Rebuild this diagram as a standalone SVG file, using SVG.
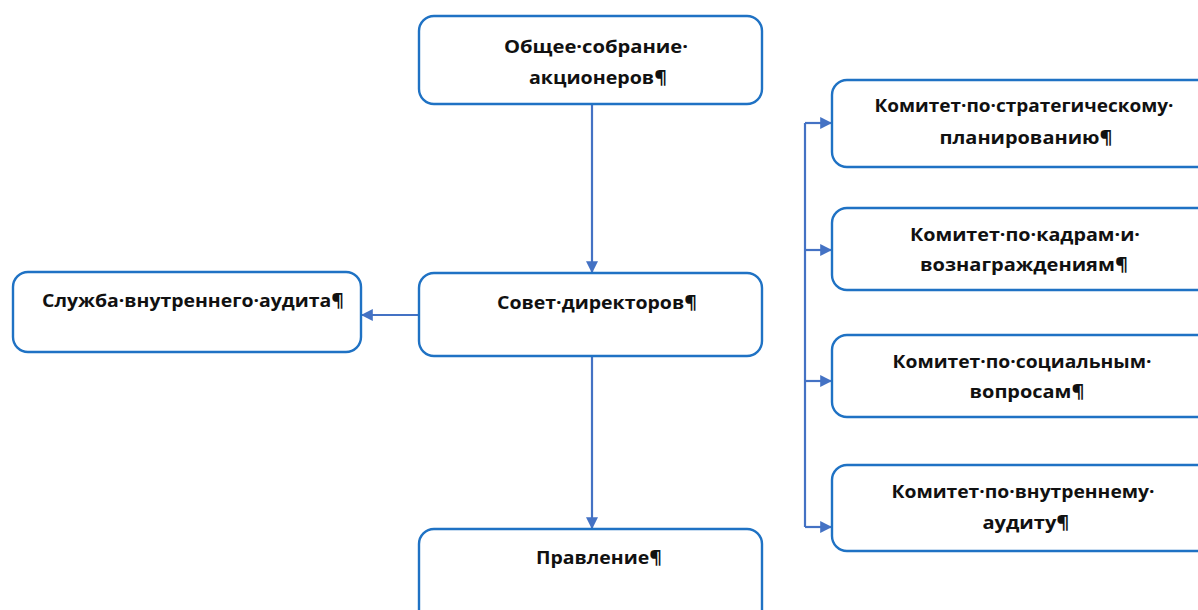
<svg xmlns="http://www.w3.org/2000/svg" width="1198" height="610" viewBox="0 0 1198 610">
<defs>
<style>
.box{fill:#fff;stroke:#1f72c4;stroke-width:2.4}
.t{font-family:"Open Sans","Noto Sans","DejaVu Sans",sans-serif;font-weight:700;font-size:18px;fill:#111;text-anchor:middle}
.c{fill:none;stroke:#4472c4;stroke-width:2.2}
</style>
<marker id="ah" viewBox="0 0 10 10" refX="9" refY="5" markerWidth="12" markerHeight="12" markerUnits="userSpaceOnUse" orient="auto">
<path d="M0,0 L10,5 L0,10 Z" fill="#4472c4"/>
</marker>
</defs>
<rect width="1198" height="610" fill="#fff"/>
<g id="connectors">
<path class="c" d="M592,104 V272" marker-end="url(#ah)"/>
<path class="c" d="M592,356 V528" marker-end="url(#ah)"/>
<path class="c" d="M418,315 H362" marker-end="url(#ah)"/>
<path class="c" d="M805,123 V527"/>
<path class="c" d="M805,123 H831" marker-end="url(#ah)"/>
<path class="c" d="M805,250 H831" marker-end="url(#ah)"/>
<path class="c" d="M805,381 H831" marker-end="url(#ah)"/>
<path class="c" d="M805,527 H831" marker-end="url(#ah)"/>
</g>
<g id="n-meeting">
<rect class="box" x="419" y="16" width="343" height="88" rx="15"/>
<text class="t" x="596" y="53" textLength="184" lengthAdjust="spacingAndGlyphs">Общее·собрание·</text>
<text class="t" x="598" y="84" textLength="138" lengthAdjust="spacingAndGlyphs">акционеров¶</text>
</g>
<g id="n-board">
<rect class="box" x="419" y="273" width="343" height="83" rx="15"/>
<text class="t" x="597" y="309" textLength="200" lengthAdjust="spacingAndGlyphs">Совет·директоров¶</text>
</g>
<g id="n-audit-service">
<rect class="box" x="13" y="272" width="348" height="80" rx="15"/>
<text class="t" x="193" y="307" textLength="302" lengthAdjust="spacingAndGlyphs">Служба·внутреннего·аудита¶</text>
</g>
<g id="n-management">
<rect class="box" x="419" y="529" width="343" height="100" rx="15"/>
<text class="t" x="599" y="564" textLength="126" lengthAdjust="spacingAndGlyphs">Правление¶</text>
</g>
<g id="n-strategy">
<rect class="box" x="832" y="80" width="390" height="87" rx="15"/>
<text class="t" x="1024" y="112" textLength="299" lengthAdjust="spacingAndGlyphs">Комитет·по·стратегическому·</text>
<text class="t" x="1026" y="144" textLength="173" lengthAdjust="spacingAndGlyphs">планированию¶</text>
</g>
<g id="n-hr">
<rect class="box" x="832" y="208" width="390" height="82" rx="15"/>
<text class="t" x="1025" y="241" textLength="230" lengthAdjust="spacingAndGlyphs">Комитет·по·кадрам·и·</text>
<text class="t" x="1024" y="271" textLength="208" lengthAdjust="spacingAndGlyphs">вознаграждениям¶</text>
</g>
<g id="n-social">
<rect class="box" x="832" y="335" width="390" height="82" rx="15"/>
<text class="t" x="1022" y="368" textLength="259" lengthAdjust="spacingAndGlyphs">Комитет·по·социальным·</text>
<text class="t" x="1027" y="398" textLength="115" lengthAdjust="spacingAndGlyphs">вопросам¶</text>
</g>
<g id="n-internal-audit">
<rect class="box" x="832" y="465" width="390" height="86" rx="15"/>
<text class="t" x="1023" y="498" textLength="263" lengthAdjust="spacingAndGlyphs">Комитет·по·внутреннему·</text>
<text class="t" x="1026" y="529" textLength="87" lengthAdjust="spacingAndGlyphs">аудиту¶</text>
</g>
</svg>
